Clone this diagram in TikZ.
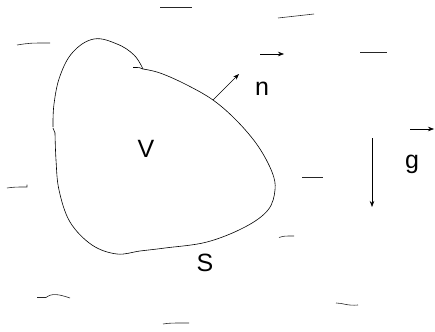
\documentclass[tikz,border=0pt]{standalone}
\usepackage{fontspec}
\setmainfont{Liberation Sans}
\usetikzlibrary{arrows.meta}
\begin{document}
\begin{tikzpicture}[x=1pt,y=-1pt,
  outline/.style={line width=0.6pt,black},
  stroke/.style={line width=0.6pt,black!85},
  vecarrow/.style={line width=0.6pt,-{Stealth[length=6pt,width=4.5pt]}},
  lbl/.style={inner sep=0pt,font=\fontsize{25}{28}\selectfont}]
\useasboundingbox (0,0) rectangle (435,331);
% region boundary S
\draw[outline] plot[smooth,tension=0.65] coordinates {(53,127) (54,104) (60,76) (73,52) (94,39) (117,44) (134,55) (143,69)};
\draw[outline] plot[smooth,tension=0.6] coordinates {(143,69) (160,73) (185,84) (213,100) (237,121) (258,146) (272,172) (275,190) (268,210) (245,227) (207,242) (165,248) (140,251) (117,254) (92,245) (70,222) (59,190) (56,160) (55,133)};
\draw[outline] (55,133) -- (53,128);
\draw[outline] (143,69) .. controls (140,67.5) .. (133,67.5);
% labels
\node[lbl] (V) at (146,149) {V};
\node[lbl] (S) at (205,263) {S};
\node[lbl] (n) at (262,89) {n};
\node[lbl] (g) at (412,164) {g};
% normal vector
\coordinate (nbase) at (213,100);
\coordinate (ntip) at (239,74);
\draw[vecarrow] (nbase) -- (ntip);
% vector marks
\coordinate (na) at (260,54);
\coordinate (nb) at (284,54);
\draw[vecarrow] (na) -- (nb);
\coordinate (ga) at (410,129);
\coordinate (gb) at (434,129);
\draw[vecarrow] (ga) -- (gb);
% gravity
\coordinate (gtop) at (372,138);
\coordinate (gbot) at (372,207);
\draw[vecarrow] (gtop) -- (gbot);
% stream marks
\draw[stroke] (160,7.5) -- (192,7.5);
\draw[stroke] (278,18) -- (314,14);
\draw[stroke] (360,52) -- (387,52);
\draw[stroke] (17,45) .. controls (30,43) .. (50,43);
\draw[stroke] (7,188) .. controls (15,187) .. (27,187) -- (27,184.5);
\draw[stroke] (302,177) -- (323,177);
\draw[stroke] (279,237.5) .. controls (284,236) .. (294,236);
\draw[stroke] (336,303) .. controls (343,303) and (347,306) .. (358,305);
\draw[stroke] (37,297.5) -- (46,297.5) .. controls (52,293) and (58,294) .. (70,298);
\draw[stroke] (163,324) .. controls (170,323) .. (189,323);
\end{tikzpicture}
\end{document}
